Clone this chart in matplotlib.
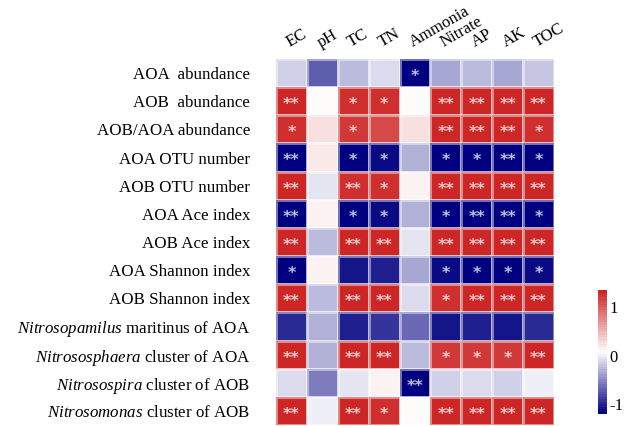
import numpy as np
import matplotlib
matplotlib.use('Agg')
import matplotlib.pyplot as plt
from matplotlib.colors import LinearSegmentedColormap, Normalize

plt.rcParams['font.family'] = ['Liberation Serif', 'DejaVu Serif']
plt.rcParams['mathtext.fontset'] = 'custom'
plt.rcParams['mathtext.rm'] = 'Liberation Serif'
plt.rcParams['mathtext.it'] = 'Liberation Serif:italic'

# Soil properties (columns)
soil_vars = ['EC', 'pH', 'TC', 'TN', 'Ammonia', 'Nitrate', 'AP', 'AK', 'TOC']

# Microbial indices (rows)
microbes = ['AOA  abundance',
            'AOB  abundance',
            'AOB/AOA abundance',
            'AOA OTU number',
            'AOB OTU number',
            'AOA Ace index',
            'AOB Ace index',
            'AOA Shannon index',
            'AOB Shannon index',
            r'$\it{Nitrosopamilus}$ maritinus of AOA',
            r'$\it{Nitrososphaera}$ cluster of AOA',
            r'$\it{Nitrosospira}$ cluster of AOB',
            r'$\it{Nitrosomonas}$ cluster of AOB']

# Correlation values
aoa_abund = [-0.18, -0.72, -0.24, -0.08, -1.20, -0.37, -0.28, -0.35, -0.21]
aob_abund = [1.31, 0.075, 1.26, 1.26, 0.075, 1.32, 1.31, 1.31, 1.31]
ratio_abund = [1.25, 0.23, 1.22, 1.10, 0.27, 1.31, 1.31, 1.30, 1.25]
aoa_otu = [-1.20, 0.18, -1.16, -1.14, -0.31, -1.16, -1.16, -1.20, -1.16]
aob_otu = [1.31, -0.05, 1.29, 1.25, 0.13, 1.31, 1.31, 1.31, 1.31]
aoa_ace = [-1.20, 0.14, -1.16, -1.14, -0.31, -1.16, -1.20, -1.20, -1.16]
aob_ace = [1.31, -0.27, 1.31, 1.31, -0.03, 1.31, 1.31, 1.31, 1.31]
aoa_shannon = [-1.20, 0.14, -1.07, -1.03, -0.37, -1.14, -1.16, -1.20, -1.14]
aob_shannon = [1.31, -0.28, 1.31, 1.31, -0.12, 1.26, 1.31, 1.31, 1.31]
nitrosopumilus = [-0.95, -0.33, -1.01, -0.92, -0.69, -1.05, -1.01, -1.05, -0.95]
nitrososphaera = [1.31, -0.31, 1.31, 1.31, -0.27, 1.20, 1.20, 1.20, 1.31]
nitrosospira = [-0.09, -0.56, -0.03, 0.14, -1.20, -0.155, -0.10, -0.18, 0.02]
nitrosomonas = [1.31, 0.01, 1.31, 1.26, 0.075, 1.31, 1.31, 1.31, 1.31]

# Significance marks
sig = [['', '', '', '', '*', '', '', '', ''],
       ['**', '', '*', '*', '', '**', '**', '**', '**'],
       ['*', '', '*', '', '', '**', '**', '**', '*'],
       ['**', '', '*', '*', '', '*', '*', '**', '*'],
       ['**', '', '**', '*', '', '**', '**', '**', '**'],
       ['**', '', '*', '*', '', '*', '**', '**', '*'],
       ['**', '', '**', '**', '', '**', '**', '**', '**'],
       ['*', '', '', '', '', '*', '*', '*', '*'],
       ['**', '', '**', '**', '', '*', '**', '**', '**'],
       ['', '', '', '', '', '', '', '', ''],
       ['**', '', '**', '**', '', '*', '*', '*', '**'],
       ['', '', '', '', '**', '', '', '', ''],
       ['**', '', '**', '*', '', '**', '**', '**', '**']]

corr = np.array([aoa_abund, aob_abund, ratio_abund, aoa_otu, aob_otu, aoa_ace,
                 aob_ace, aoa_shannon, aob_shannon, nitrosopumilus,
                 nitrososphaera, nitrosospira, nitrosomonas])

# navy - white - firebrick3, like the pheatmap palette
cmap = LinearSegmentedColormap.from_list('nwf', ['#000080', 'white', '#CD2626'], N=50)
norm = Normalize(vmin=-1.2, vmax=1.35)

fig = plt.figure(figsize=(6.25, 4.26), dpi=100)
ax = fig.add_axes([0.4416, 0.0023, 0.4448, 0.8592])

mesh = ax.pcolormesh(corr, cmap=cmap, norm=norm,
                     edgecolors=(1, 1, 1, 0.45), linewidth=0.8)
ax.set_xlim(0, len(soil_vars))
ax.set_ylim(len(microbes), 0)

for i in range(len(microbes)):
    for j in range(len(soil_vars)):
        if sig[i][j]:
            ax.text(j + 0.5, i + 0.62, sig[i][j], ha='center', va='center',
                    fontsize=11.5, fontweight='bold', color='white', alpha=0.75,
                    family='DejaVu Sans')

ax.set_yticks(np.arange(len(microbes)) + 0.5)
ax.set_yticklabels(microbes, fontsize=12.2)
ax.tick_params(axis='y', length=0, pad=18.5)
ax.set_xticks([])
for j, name in enumerate(soil_vars):
    ax.text(j + 0.5, -0.3, name, rotation=30, rotation_mode='anchor',
            ha='left', va='bottom', fontsize=12)

for s in ax.spines.values():
    s.set_visible(False)

cax = fig.add_axes([0.9568, 0.0282, 0.0144, 0.291])
cb = fig.colorbar(mesh, cax=cax, ticks=[-1, 0, 1])
cb.outline.set_visible(False)
cb.ax.set_yticklabels(['-1', '0', '1'], fontsize=12)
cb.ax.tick_params(length=0, pad=2)

fig.savefig('out.png', dpi=100)
